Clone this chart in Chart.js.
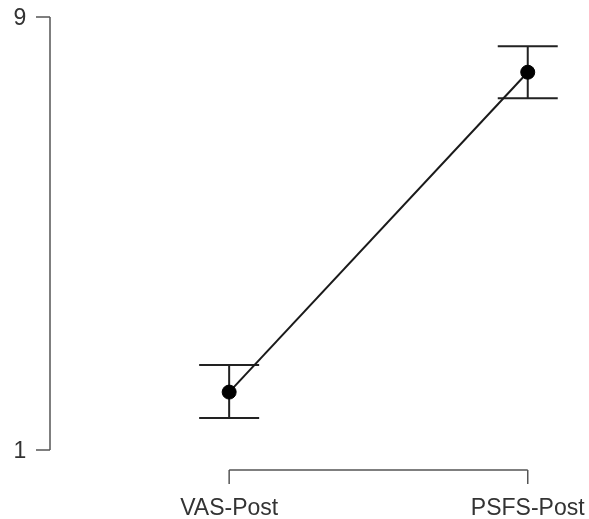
<!DOCTYPE html>
<html>
<head>
  <title>VAS vs PSFS</title>
  <script src="https://cdn.jsdelivr.net/npm/chart.js"></script>
  <style>
    body { margin: 0; background: #fff; }
    .chart-container { position: relative; width: 589px; height: 519px; }
  </style>
</head>
<body>
  <div class="chart-container">
    <canvas id="myChart"></canvas>
  </div>
  <script>
    const categories = ['VAS-Post', 'PSFS-Post'];
    const means = [2.07, 7.98];
    const lower = [1.59, 7.50];
    const upper = [2.57, 8.46];
    const yTicks = [1, 9];

    const font = '23px "Liberation Sans", Arial, sans-serif';

    // R style axes + error bars, drawn from the chart scales
    const rAxes = {
      id: 'rAxes',
      beforeDatasetsDraw(chart) {
        const { ctx, scales: { x, y } } = chart;
        ctx.save();
        ctx.strokeStyle = '#222';
        ctx.lineWidth = 2;
        categories.forEach((c, i) => {
          const px = x.getPixelForValue(i);
          const top = y.getPixelForValue(upper[i]);
          const bot = y.getPixelForValue(lower[i]);
          ctx.beginPath();
          ctx.moveTo(px, top); ctx.lineTo(px, bot);
          ctx.moveTo(px - 30, top); ctx.lineTo(px + 30, top);
          ctx.moveTo(px - 30, bot); ctx.lineTo(px + 30, bot);
          ctx.stroke();
        });
        ctx.restore();
      },
      afterDraw(chart) {
        const { ctx, chartArea, scales: { x, y } } = chart;
        ctx.save();
        ctx.strokeStyle = '#555';
        ctx.lineWidth = 1.5;
        ctx.fillStyle = '#333';
        ctx.font = font;
        // y axis
        const ax = chartArea.left;
        ctx.beginPath();
        ctx.moveTo(ax, y.getPixelForValue(yTicks[0]));
        ctx.lineTo(ax, y.getPixelForValue(yTicks[yTicks.length - 1]));
        yTicks.forEach(t => {
          const py = y.getPixelForValue(t);
          ctx.moveTo(ax, py); ctx.lineTo(ax - 14, py);
        });
        ctx.stroke();
        ctx.textAlign = 'center';
        ctx.textBaseline = 'middle';
        yTicks.forEach(t => ctx.fillText(String(t), 20, y.getPixelForValue(t) + 2));
        // x axis
        const ay = y.getPixelForValue(yTicks[0]) + 20;
        ctx.beginPath();
        ctx.moveTo(x.getPixelForValue(0), ay);
        ctx.lineTo(x.getPixelForValue(categories.length - 1), ay);
        categories.forEach((c, i) => {
          const px = x.getPixelForValue(i);
          ctx.moveTo(px, ay); ctx.lineTo(px, ay + 14);
        });
        ctx.stroke();
        ctx.textBaseline = 'alphabetic';
        categories.forEach((c, i) => ctx.fillText(c, x.getPixelForValue(i), ay + 45));
        ctx.restore();
      }
    };

    new Chart(document.getElementById('myChart').getContext('2d'), {
      type: 'line',
      data: {
        datasets: [{
          data: categories.map((c, i) => ({ x: i, y: means[i] })),
          borderColor: '#1a1a1a',
          borderWidth: 2,
          pointRadius: 7,
          pointBackgroundColor: '#000',
          pointBorderColor: '#000',
          pointBorderWidth: 1,
          tension: 0,
          clip: false
        }]
      },
      options: {
        animation: false,
        responsive: true,
        maintainAspectRatio: false,
        layout: { padding: { left: 50, right: 9, top: 17, bottom: 69 } },
        plugins: { legend: { display: false }, tooltip: { enabled: false } },
        scales: {
          x: { type: 'linear', min: -0.6, max: 1.175, display: false },
          y: { min: 1, max: 9, display: false }
        }
      },
      plugins: [rAxes]
    });
  </script>
</body>
</html>
